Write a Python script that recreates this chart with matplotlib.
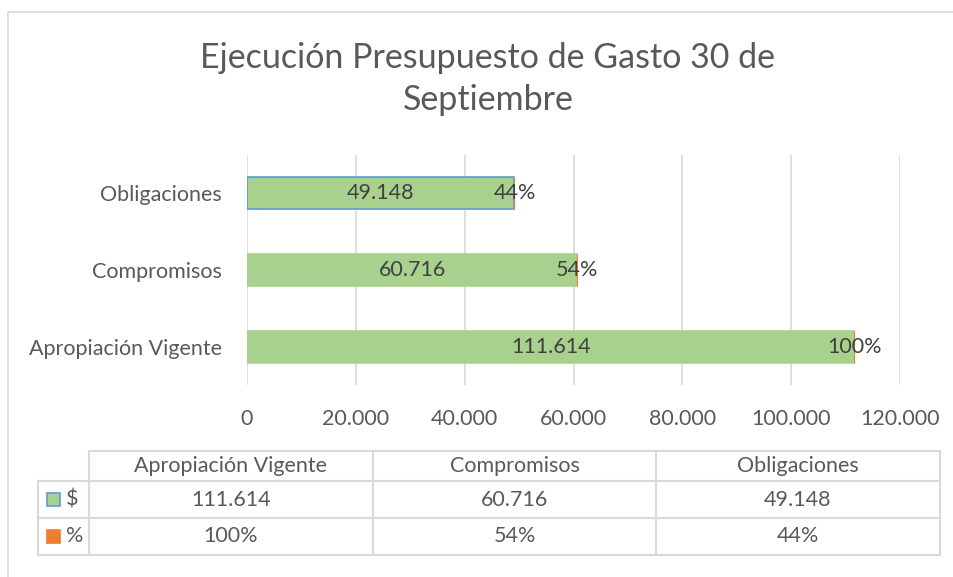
import matplotlib.pyplot as plt
from matplotlib.patches import Rectangle

# data
categories = ['Apropiación Vigente', 'Compromisos', 'Obligaciones']
valores = [111614, 60716, 49148]          # $ series (millions)
porcentajes = [1.00, 0.54, 0.44]          # % series
x_ticks = [0, 20000, 40000, 60000, 80000, 100000, 120000]

GREEN = '#A9D18E'
ORANGE = '#ED7D31'
BLUE = '#5B9BD5'
GREY_TXT = '#595959'
GRID = '#D9D9D9'
FS = 15.5

plt.rcParams['font.family'] = ['Lato', 'DejaVu Sans']


def fmt_miles(v):
    return f'{v:,.0f}'.replace(',', '.')


def fmt_pct(p):
    return f'{p * 100:.0f}%'


W, H = 954, 577
fig = plt.figure(figsize=(W / 100, H / 100), dpi=100)

# main bar axes (pixel box 247..900 x 155..385)
ax = fig.add_axes([247 / W, 1 - 385 / H, 653 / W, 230 / H])
ypos = list(range(len(categories)))
bar_h = 0.42
edges = [GREEN, GREEN, BLUE]
bars = ax.barh(ypos, valores, height=bar_h, color=GREEN, edgecolor=edges,
               linewidth=1.2, zorder=3)
pct_bars = ax.barh(ypos, porcentajes, left=valores, height=bar_h,
                   color=ORANGE, edgecolor=ORANGE, linewidth=0.8, zorder=3)

for y, v, p in zip(ypos, valores, porcentajes):
    ax.text(v / 2, y, fmt_miles(v), ha='center', va='center',
            fontsize=FS, color='#404040', zorder=4)
    ax.text(v + p / 2, y, fmt_pct(p), ha='center', va='center',
            fontsize=FS, color='#404040', zorder=4)

ax.set_xlim(0, 120000)
ax.set_ylim(-0.5, len(categories) - 0.5)
ax.set_xticks(x_ticks)
ax.set_xticklabels([fmt_miles(t) for t in x_ticks])
ax.set_yticks(ypos)
ax.set_yticklabels(categories)
ax.tick_params(axis='both', length=0, labelsize=FS, colors=GREY_TXT)
ax.tick_params(axis='x', pad=17)
ax.tick_params(axis='y', pad=18)
ax.grid(axis='x', color=GRID, linewidth=1.2, zorder=0)
for s in ax.spines.values():
    s.set_visible(False)

# overlay in pixel coords for title, frame and data table
ov = fig.add_axes([0, 0, 1, 1], zorder=-1)
ov.set_xlim(0, W)
ov.set_ylim(H, 0)
ov.axis('off')

ov.plot([8, 8, W + 5], [H + 5, 12, 12], color=GRID, lw=1.2)

ov.text(488, 58, 'Ejecución Presupuesto de Gasto 30 de', ha='center',
        va='center', fontsize=24.5, color=GREY_TXT)
ov.text(488, 100, 'Septiembre', ha='center', va='center',
        fontsize=24.5, color=GREY_TXT)

# data table
col_x = [89, 373, 656, 940]
row_y = [451, 481, 518, 555]
left_x = 38
tbl = dict(color=GRID, lw=1.5)
ov.plot([col_x[0], col_x[-1]], [row_y[0], row_y[0]], **tbl)
for y in row_y[1:]:
    ov.plot([left_x, col_x[-1]], [y, y], **tbl)
for x in col_x:
    ov.plot([x, x], [row_y[0], row_y[-1]], **tbl)
ov.plot([left_x, left_x], [row_y[1], row_y[-1]], **tbl)

for i, cat in enumerate(categories):
    cx = (col_x[i] + col_x[i + 1]) / 2
    ov.text(cx, (row_y[0] + row_y[1]) / 2, cat, ha='center', va='center',
            fontsize=FS, color=GREY_TXT)
    ov.text(cx, (row_y[1] + row_y[2]) / 2, fmt_miles(valores[i]),
            ha='center', va='center', fontsize=FS, color=GREY_TXT)
    ov.text(cx, (row_y[2] + row_y[3]) / 2, fmt_pct(porcentajes[i]),
            ha='center', va='center', fontsize=FS, color=GREY_TXT)

# legend keys in the table
for r, (fc, ec, lab) in enumerate([(GREEN, BLUE, '$'), (ORANGE, ORANGE, '%')]):
    cy = (row_y[r + 1] + row_y[r + 2]) / 2
    ov.add_patch(Rectangle((47, cy - 6.5), 13, 13, facecolor=fc,
                           edgecolor=ec, lw=1.2))
    ov.text(66, cy, lab, ha='left', va='center', fontsize=FS, color=GREY_TXT)

fig.savefig('out.png', dpi=100, facecolor='white')
